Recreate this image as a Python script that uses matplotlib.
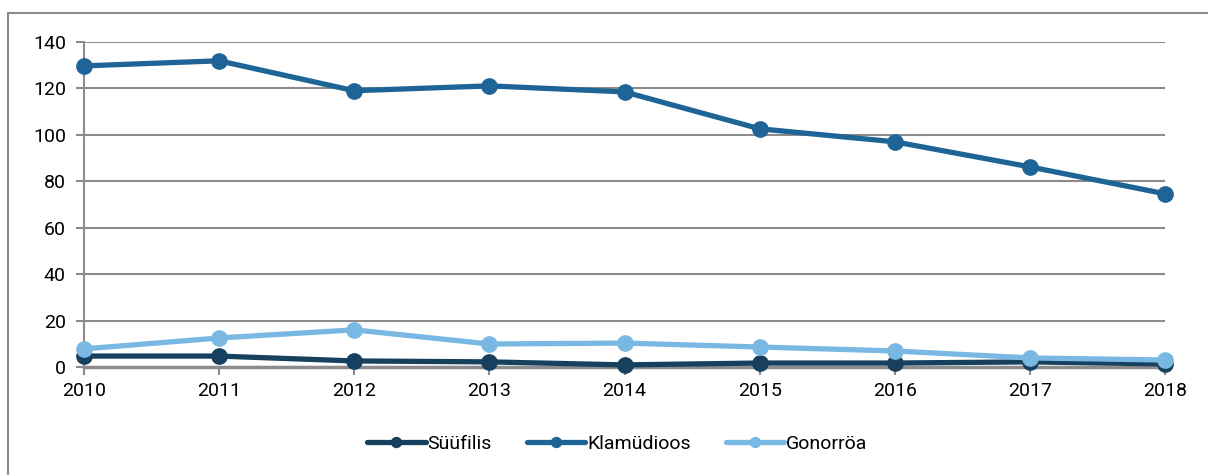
import matplotlib.pyplot as plt
from matplotlib.patches import Rectangle

years = [2010, 2011, 2012, 2013, 2014, 2015, 2016, 2017, 2018]
syyfilis = [4.7, 4.7, 2.6, 2.2, 0.9, 1.7, 1.7, 2.2, 1.3]
klamydioos = [129.7, 131.9, 119.0, 121.1, 118.5, 102.6, 97.0, 86.2, 74.6]
gonorroa = [7.8, 12.5, 16.0, 9.9, 10.3, 8.6, 6.9, 3.9, 3.0]
yticks = [0, 20, 40, 60, 80, 100, 120, 140]

plt.rcParams['font.family'] = ['Roboto', 'DejaVu Sans']

fig = plt.figure(figsize=(12.08, 4.75), dpi=100)
fig.patches.append(Rectangle((0.0066, -0.02), 1.1, 0.9926, transform=fig.transFigure,
                             fill=False, edgecolor='#8c8c8c', linewidth=1.5))
ax = fig.add_axes([0.0695, 0.2274, 0.895, 0.6842])

series = [
    ("Süüfilis", syyfilis, '#17405f'),
    ("Klamüdioos", klamydioos, '#1f6496'),
    ("Gonorröa", gonorroa, '#7ab8e4'),
]
# klamüdioos first, the two low lines on top
for name, vals, col in [series[1], series[0], series[2]]:
    ax.plot(years, vals, color=col, linewidth=3.8, marker='o', markersize=11,
            label=name, solid_capstyle='round', clip_on=False, zorder=3)

ax.set_xlim(2010, 2018)
ax.set_ylim(0, 140)
ax.set_yticks(yticks)
ax.set_xticks(years)
ax.grid(axis='y', color='#8c8c8c', linewidth=1.5)
ax.set_axisbelow(True)
for s in ['top', 'right']:
    ax.spines[s].set_visible(False)
ax.spines['left'].set_color('#8c8c8c')
ax.spines['left'].set_linewidth(1.5)
ax.spines['bottom'].set_color('#8c8c8c')
ax.spines['bottom'].set_linewidth(2.5)
ax.tick_params(axis='both', colors='#8c8c8c', labelcolor='black', labelsize=14,
               length=6, width=1.5)
ax.tick_params(axis='y', pad=7)
ax.tick_params(axis='x', pad=5)

handles, labels = ax.get_legend_handles_labels()
order = [labels.index(n) for n, _, _ in series]
leg = fig.legend([handles[i] for i in order], [labels[i] for i in order],
                 loc='center', bbox_to_anchor=(0.511, 0.065), ncol=3, frameon=False,
                 fontsize=14, handlelength=3.0, handletextpad=0.1, columnspacing=1.8,
                 markerscale=0.65)

fig.savefig('out.png', dpi=100)
